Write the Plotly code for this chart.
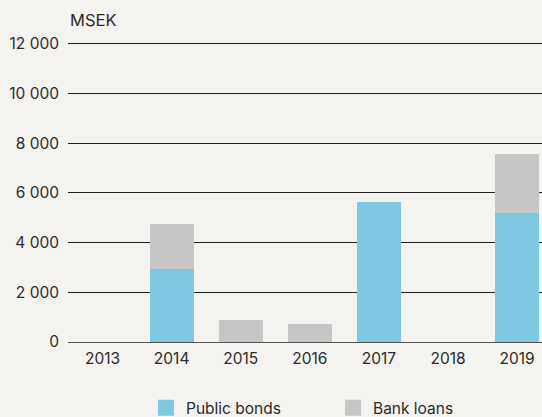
import plotly.graph_objects as go

years = ["2013", "2014", "2015", "2016", "2017", "2018", "2019"]
public_bonds = [0, 2920, 0, 0, 5620, 0, 5210]
bank_loans = [0, 1850, 870, 710, 0, 0, 2380]
y_ticks = [0, 2000, 4000, 6000, 8000, 10000, 12000]

BLUE = "#7fc8e2"
GREY = "#c6c6c6"
BG = "#f4f3ef"
TEXT = "#2b2b2b"
FONT = "Inter"

fig = go.Figure()
fig.add_trace(go.Bar(x=years, y=public_bonds, marker_color=BLUE, marker_line_width=0,
                     name="Public bonds", showlegend=False))
fig.add_trace(go.Bar(x=years, y=bank_loans, marker_color=GREY, marker_line_width=0,
                     name="Bank loans", showlegend=False))

# legend entries with large square swatches
for name, col in [("Public bonds", BLUE), ("Bank loans", GREY)]:
    fig.add_trace(go.Scatter(x=[None], y=[None], mode="markers", name=name,
                             marker=dict(symbol="square", size=16, color=col)))

fig.update_layout(
    width=542, height=417,
    margin=dict(l=68, r=0, t=40, b=75, autoexpand=False),
    paper_bgcolor=BG, plot_bgcolor=BG,
    barmode="stack", bargap=0.36,
    separators=", ",
    font=dict(family=FONT, size=15.5, color=TEXT),
    showlegend=True,
    legend=dict(orientation="h", x=(146 - 68) / 474, xanchor="left",
                y=-0.163, yanchor="top", entrywidth=142, entrywidthmode="pixels",
                traceorder="normal",
                font=dict(size=15.5, color=TEXT), bgcolor="rgba(0,0,0,0)",
                itemclick=False),
    xaxis=dict(range=[-0.5, 6.36], showgrid=False, showline=False, zeroline=False,
               ticks="", ticklabelstandoff=5, tickfont=dict(size=15.5, color=TEXT)),
    yaxis=dict(range=[0, 12160], tickvals=y_ticks, tickformat=",d",
               showgrid=True, gridcolor="#222222", gridwidth=1,
               zeroline=True, zerolinecolor="#555555", zerolinewidth=1,
               showline=False, ticks="", ticklabelstandoff=8,
               tickfont=dict(size=15.5, color=TEXT)),
    annotations=[dict(text="MSEK", x=-0.5, y=12000, xref="x", yref="y",
                      xanchor="left", yanchor="bottom", xshift=0, yshift=12,
                      showarrow=False, font=dict(size=16.5, color=TEXT))],
)

fig.write_html("out.html")
